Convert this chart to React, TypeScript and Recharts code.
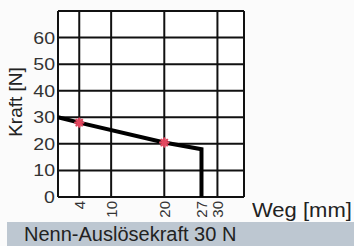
import React from 'react';
import { LineChart, Line, XAxis, YAxis, ReferenceLine, Scatter } from 'recharts';

const wegValues = [0, 4, 20, 27, 27];
const kraftValues = [30, 28, 20.5, 18, 0];
const markerWeg = [4, 20];
const markerKraft = [28, 20.5];
const xTicks = [4, 10, 20, 27, 30];
const yTicks = [0, 10, 20, 30, 40, 50, 60];
const xGrid = [0, 4, 10, 20, 30, 35];
const yGrid = [0, 10, 20, 30, 40, 50, 60, 70];

const lineData = wegValues.map((w, i) => ({ weg: w, kraft: kraftValues[i] }));
const markerData = markerWeg.map((w, i) => ({ weg: w, kraft: markerKraft[i] }));

const FONT = '"Liberation Sans", Arial, sans-serif';

const XTick = (props: any) => {
  const { x, y, payload } = props;
  return (
    <text
      x={x}
      y={y}
      transform={`rotate(-90 ${x} ${y})`}
      textAnchor="end"
      dominantBaseline="central"
      fontSize={15}
      fontFamily={FONT}
      fill="#333"
    >
      {payload.value}
    </text>
  );
};

const YTick = (props: any) => {
  const { x, y, payload } = props;
  return (
    <text
      x={x}
      y={y}
      textAnchor="end"
      dominantBaseline="central"
      fontSize={17}
      fontFamily={FONT}
      fill="#333"
      transform={`translate(${x} 0) scale(1.15 1) translate(${-x} 0)`}
    >
      {payload.value}
    </text>
  );
};

const Star = (props: any) => {
  const { cx, cy } = props;
  if (cx == null || cy == null) return null;
  const r = 4;
  return (
    <g stroke="#e3475f" strokeWidth={2.4} strokeLinecap="round">
      <line x1={cx - r} y1={cy} x2={cx + r} y2={cy} />
      <line x1={cx} y1={cy - r} x2={cx} y2={cy + r} />
      <line x1={cx - r * 0.7} y1={cy - r * 0.7} x2={cx + r * 0.7} y2={cy + r * 0.7} />
      <line x1={cx - r * 0.7} y1={cy + r * 0.7} x2={cx + r * 0.7} y2={cy - r * 0.7} />
    </g>
  );
};

export default function App() {
  return (
    <div style={{ position: 'absolute', left: 0, top: 0, width: 354, height: 246, background: '#fbfbfb', overflow: 'hidden', fontFamily: FONT }}>
      <LineChart width={354} height={246} data={lineData} margin={{ top: 11, right: 110, bottom: 19, left: 0 }}>
        <rect x={58} y={11} width={186} height={186} fill="#ffffff" />
        <XAxis
          dataKey="weg"
          type="number"
          domain={[0, 35]}
          ticks={xTicks}
          interval={0}
          tickLine={false}
          axisLine={false}
          tickSize={0}
          tickMargin={4}
          height={30}
          tick={<XTick />}
        />
        <YAxis
          type="number"
          domain={[0, 70]}
          ticks={yTicks}
          interval={0}
          tickLine={false}
          axisLine={false}
          tickSize={0}
          tickMargin={3}
          width={58}
          tick={<YTick />}
        />
        {xGrid.map((v) => (
          <ReferenceLine key={'x' + v} x={v} stroke="#111" strokeWidth={2} ifOverflow="extendDomain" />
        ))}
        {yGrid.map((v) => (
          <ReferenceLine key={'y' + v} y={v} stroke="#111" strokeWidth={2} ifOverflow="extendDomain" />
        ))}
        <Line
          dataKey="kraft"
          type="linear"
          stroke="#000"
          strokeWidth={4}
          dot={false}
          activeDot={false}
          isAnimationActive={false}
        />
        <Scatter data={markerData} dataKey="kraft" shape={<Star />} isAnimationActive={false} />
      </LineChart>
      <div
        style={{
          position: 'absolute',
          left: 15,
          top: 102,
          transform: 'translate(-50%, -50%) rotate(-90deg)',
          fontSize: 19,
          color: '#222',
          whiteSpace: 'nowrap',
          lineHeight: 1,
        }}
      >
        Kraft [N]
      </div>
      <div
        style={{
          position: 'absolute',
          left: 252,
          top: 200,
          fontSize: 20,
          color: '#222',
          whiteSpace: 'nowrap',
          lineHeight: 1,
          transform: 'scaleX(1.1)',
          transformOrigin: 'left center',
        }}
      >
        Weg [mm]
      </div>
      <div
        style={{
          position: 'absolute',
          left: 7,
          top: 222,
          width: 347,
          height: 24,
          background: '#bdc7d1',
        }}
      />
      <div style={{ position: 'absolute', left: 24, top: 224, fontSize: 20, color: '#222', whiteSpace: 'nowrap', lineHeight: 1 }}>
        Nenn-Auslösekraft 30 N
      </div>
    </div>
  );
}
